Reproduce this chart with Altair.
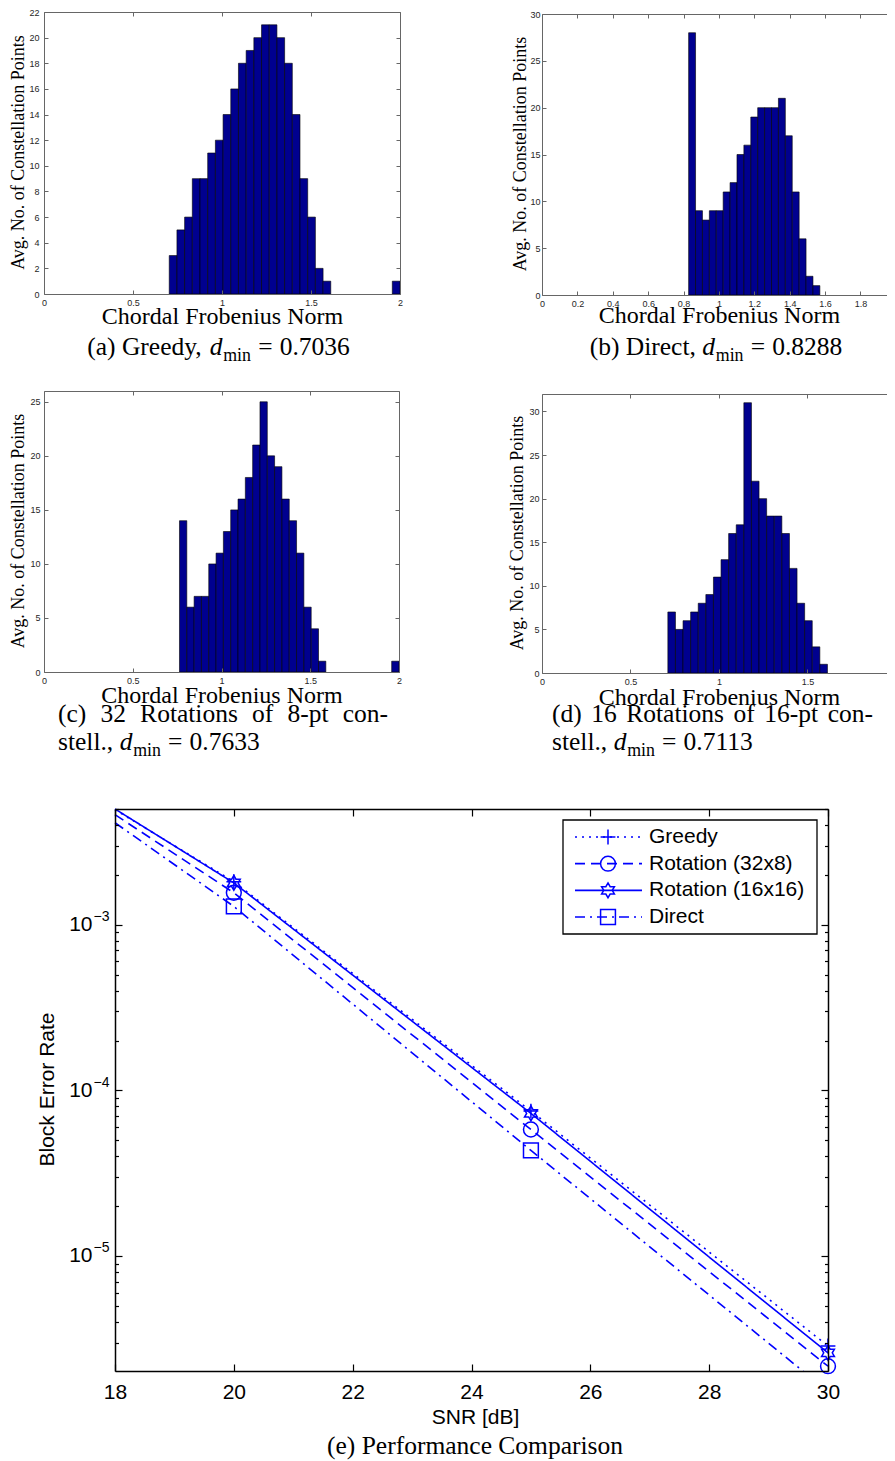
import altair as alt
import pandas as pd

# ================= DATA =================
# Histograms: 30 equal bins from d_min to 2.0 (counts)
hist_max = 2.0
dmin_a = 0.7036
counts_a = [3, 5, 6, 9, 9, 11, 12, 14, 16, 18, 19, 20, 21, 21, 20, 18, 14, 9, 6, 2, 1,
            0, 0, 0, 0, 0, 0, 0, 0, 1]
dmin_b = 0.8288
counts_b = [28, 9, 8, 9, 9, 11, 12, 15, 16, 19, 20, 20, 20, 21, 17, 11, 6, 2, 1,
            0, 0, 0, 0, 0, 0, 0, 0, 0, 0, 1]
dmin_c = 0.7633
counts_c = [14, 6, 7, 7, 10, 11, 13, 15, 16, 18, 21, 25, 20, 19, 16, 14, 11, 6, 4, 1,
            0, 0, 0, 0, 0, 0, 0, 0, 0, 1]
dmin_d = 0.7113
counts_d = [7, 5, 6, 7, 8, 9, 11, 13, 16, 17, 31, 22, 20, 18, 18, 16, 12, 8, 6, 3, 1,
            0, 0, 0, 0, 0, 0, 0, 0, 1]

# Block error rate vs SNR
snr_db = [18, 20, 25, 30]
series_names = ["Greedy", "Rotation (32x8)", "Rotation (16x16)", "Direct"]
bler_greedy = [4.95e-3, 1.82e-3, 7.5e-5, 2.86e-6]
bler_rot32x8 = [4.62e-3, 1.56e-3, 5.8e-5, 2.16e-6]
bler_rot16x16 = [5.0e-3, 1.79e-3, 7.26e-5, 2.6e-6]
bler_direct = [4.13e-3, 1.29e-3, 4.34e-5, 1.52e-6]
marker_snr_min = 20

# Tick labels / axis ranges
hist_xticks = [0, 0.5, 1, 1.5, 2]
hist_xticks_d = [0, 0.5, 1, 1.5]
hist_xticks_b = [0, 0.2, 0.4, 0.6, 0.8, 1, 1.2, 1.4, 1.6, 1.8]
yticks_a = [0, 2, 4, 6, 8, 10, 12, 14, 16, 18, 20, 22]
yticks_b = [0, 5, 10, 15, 20, 25, 30]
yticks_c = [0, 5, 10, 15, 20, 25]
yticks_d = [0, 5, 10, 15, 20, 25, 30]
snr_ticks = [18, 20, 22, 24, 26, 28, 30]
bler_lo, bler_hi = 2.02e-6, 5.0e-3
bler_major = [1e-5, 1e-4, 1e-3]
bler_minor = [k * 10.0 ** e for e in (-6, -5, -4, -3) for k in range(2, 10)
              if bler_lo <= k * 10.0 ** e <= bler_hi]

# ================= STYLE / LAYOUT =================
SERIF = "Liberation Serif"
SANS = "Liberation Sans"
NAVY = "#00008F"
BLUE = "#0000FF"
HFRAME = "#666666"
CAP_FS = 25.5
GW, GH = 879, 1447          # one drawing surface; page pixel = surface pixel + 8
ONE = pd.DataFrame({"k": [0]})

# plot rectangles of the five panels on the surface
PAN = {
    "a": dict(x0=36, x1=392, y0=4, y1=286),
    "b": dict(x0=534, x1=879, y0=6, y1=287),
    "c": dict(x0=36, x1=391, y0=383, y1=664),
    "d": dict(x0=534, x1=879, y0=386, y1=665),
    "e": dict(x0=107, x1=820, y0=801, y1=1363),
}

TIMES_W = {" ": 250, "(": 333, ")": 333, ",": 250, ".": 250, "-": 333, "=": 564,
           "a": 444, "b": 500, "c": 444, "d": 500, "e": 444, "f": 333, "g": 500,
           "h": 500, "i": 278, "k": 500, "l": 278, "m": 778, "n": 500, "o": 500,
           "p": 500, "r": 333, "s": 389, "t": 278, "u": 500, "x": 500, "y": 500,
           "C": 667, "D": 722, "G": 722, "N": 722, "P": 556, "R": 667}
for _c in "0123456789":
    TIMES_W[_c] = 500


def tw(s, fs):
    return sum(TIMES_W.get(c, 500) for c in s) / 1000.0 * fs


def txt(s, x, y, fs, style="normal", align="left", baseline="alphabetic",
        font=SERIF, color="black"):
    return alt.Chart(ONE).mark_text(
        text=s, font=font, fontSize=fs, fontStyle=style, align=align,
        baseline=baseline, color=color
    ).encode(x=alt.value(x), y=alt.value(y))


def dmin_run(prefix, value, fs):
    items, x = [], 0.0
    items.append((prefix, x, 0.0, fs, "normal"))
    x += tw(prefix, fs)
    items.append(("d", x, 0.0, fs, "italic"))
    x += 0.53 * fs
    sfs = 0.7 * fs
    items.append(("min", x, 0.2 * fs, sfs, "normal"))
    x += tw("min", sfs) + 0.28 * fs
    items.append(("=", x, 0.0, fs, "normal"))
    x += tw("=", fs) + 0.28 * fs
    items.append((value, x, 0.0, fs, "normal"))
    x += tw(value, fs)
    return items, x


def place(items, x0, base):
    return [txt(s, x0 + dx, base + dy, f, style=st) for (s, dx, dy, f, st) in items]


def centered_dmin(prefix, value, cx, cy, fs=CAP_FS):
    items, w = dmin_run(prefix, value, fs)
    return place(items, cx - w / 2, cy + 0.33 * fs)


def left_dmin(prefix, value, lx, cy, fs=CAP_FS):
    items, _ = dmin_run(prefix, value, fs)
    return place(items, lx, cy + 0.33 * fs)


def justified(words, lx, rx, cy, fs=CAP_FS):
    ws = [tw(w, fs) for w in words]
    gap = (rx - lx - sum(ws)) / (len(words) - 1)
    out, x = [], lx
    for w, wd in zip(words, ws):
        out.append(txt(w, x, cy + 0.33 * fs, fs))
        x += wd + gap
    return out


def ax_layer(anchor, xs, ys, chan, orient, pos, **kw):
    """An axis whose line sits at surface coordinate `pos`."""
    if orient in ("left", "top"):
        offset = -pos
    elif orient == "right":
        offset = pos - GW
    else:
        offset = pos - GH
    ax = alt.Axis(orient=orient, offset=offset, grid=False, zindex=1, **kw)
    if chan == "x":
        enc = dict(x=alt.X("ax:Q", scale=xs, axis=ax), y=alt.Y("ay:Q", scale=ys, axis=None))
    else:
        enc = dict(x=alt.X("ax:Q", scale=xs, axis=None), y=alt.Y("ay:Q", scale=ys, axis=ax))
    return alt.Chart(anchor).mark_point(opacity=0, size=1).encode(**enc)


def inward(anchor, xs, ys, chan, orient, edge, values, size, color, width):
    pos = edge + size if orient in ("left", "top") else edge - size
    return ax_layer(anchor, xs, ys, chan, orient, pos, values=values, labels=False,
                    ticks=True, tickSize=size, tickColor=color, tickWidth=width,
                    domain=False, title=None)


def frame(anchor, xs, ys, chan, orient, edge, color, width):
    return ax_layer(anchor, xs, ys, chan, orient, edge, labels=False, ticks=False,
                    domain=True, domainColor=color, domainWidth=width, title=None)


# ================= HISTOGRAM PANELS =================
def hist_layers(p, counts, dmin, xmax, ymax, xticks, yticks, ylab_pad, ytitle_dx,
                xtitle_dy, xtitle_val, open_right):
    g = PAN[p]
    n = len(counts)
    step = (hist_max - dmin) / n
    df = pd.DataFrame({"lo": [dmin + i * step for i in range(n)],
                       "hi": [dmin + (i + 1) * step for i in range(n)],
                       "count": counts})
    df = df[df["count"] > 0]
    xs = alt.Scale(domain=[0, xmax], range=[g["x0"], g["x1"]], nice=False, zero=False)
    ys = alt.Scale(domain=[0, ymax], range=[g["y1"], g["y0"]], nice=False, zero=False)
    anchor = pd.DataFrame({"ax": [0.0], "ay": [0.0]})
    bars = alt.Chart(df).mark_rect(fill=NAVY, stroke="black", strokeWidth=0.6,
                                   clip=True).encode(
        x=alt.X("lo:Q", scale=xs, axis=None),
        x2="hi:Q",
        y=alt.Y("count:Q", scale=ys, axis=None),
        y2=alt.datum(0),
    )
    xpx = g["x0"] + (g["x1"] - g["x0"]) * xtitle_val / xmax
    xlab = ax_layer(anchor, xs, ys, "x", "bottom", g["y1"], values=xticks, format="~g",
                    labelFont=SANS, labelFontSize=9, labelColor="#262626",
                    labelPadding=4, labelFlush=False, labelOverlap=False, ticks=False,
                    domain=False, title="Chordal Frobenius Norm", titleFont=SERIF,
                    titleFontSize=24, titleFontWeight="normal", titleColor="black",
                    titleX=xpx, titleY=xtitle_dy, titleAlign="center",
                    titleBaseline="middle")
    ylab = ax_layer(anchor, xs, ys, "y", "left", g["x0"], values=yticks, labelFont=SANS,
                    labelFontSize=9, labelColor="#262626", labelPadding=ylab_pad,
                    labelOverlap=False, ticks=False, domain=False,
                    title="Avg. No. of Constellation Points", titleFont=SERIF,
                    titleFontSize=18, titleFontWeight="normal", titleColor="black",
                    titleX=ytitle_dx, titleY=(g["y0"] + g["y1"]) / 2 - 1,
                    titleAlign="center", titleBaseline="middle", titleAngle=270)
    layers = [bars, xlab, ylab,
              frame(anchor, xs, ys, "x", "bottom", g["y1"], HFRAME, 1),
              frame(anchor, xs, ys, "x", "top", g["y0"], HFRAME, 1),
              frame(anchor, xs, ys, "y", "left", g["x0"], HFRAME, 1),
              inward(anchor, xs, ys, "x", "bottom", g["y1"], xticks, 4, HFRAME, 1),
              inward(anchor, xs, ys, "x", "top", g["y0"], xticks, 4, HFRAME, 1),
              inward(anchor, xs, ys, "y", "left", g["x0"], yticks, 4, HFRAME, 1)]
    if not open_right:
        layers.append(frame(anchor, xs, ys, "y", "right", g["x1"], HFRAME, 1))
        layers.append(inward(anchor, xs, ys, "y", "right", g["x1"], yticks, 4, HFRAME, 1))
    return layers


layers = []
layers += hist_layers("a", counts_a, dmin_a, 2.0, 22, hist_xticks, yticks_a, 5, -26, 22, 1.0, False)
layers += hist_layers("b", counts_b, dmin_b, 1.95, 30, hist_xticks_b, yticks_b, 2, -22, 20, 1.0, True)
layers += hist_layers("c", counts_c, dmin_c, 2.0, 26, hist_xticks, yticks_c, 4, -26, 23, 1.0, False)
layers += hist_layers("d", counts_d, dmin_d, 1.95, 32, hist_xticks_d, yticks_d, 3, -25, 24, 1.0, True)

# captions (surface coordinates)
layers += centered_dmin("(a) Greedy, ", "0.7036", 210.5, 339)
layers += centered_dmin("(b) Direct, ", "0.8288", 708, 339)
layers += justified(["(c)", "32", "Rotations", "of", "8-pt", "con-"], 50, 380, 706)
layers += left_dmin("stell., ", "0.7633", 50, 734)
layers += justified(["(d)", "16", "Rotations", "of", "16-pt", "con-"], 544, 865, 706)
layers += left_dmin("stell., ", "0.7113", 544, 734)

# ================= BLER PANEL =================
rows = []
for name, vals in zip(series_names, [bler_greedy, bler_rot32x8, bler_rot16x16, bler_direct]):
    for s, v in zip(snr_db, vals):
        rows.append({"series": name, "snr": s, "ber": v})
df_e = pd.DataFrame(rows)

ge = PAN["e"]
xs_e = alt.Scale(domain=[18, 30], range=[ge["x0"], ge["x1"]], nice=False, zero=False)
ys_e = alt.Scale(type="log", domain=[bler_lo, bler_hi], range=[ge["y1"], ge["y0"]], nice=False)
dash_scale = alt.Scale(domain=series_names, range=[[2, 5], [10, 6], [1, 0], [10, 5, 2, 5]])
PLUS = "M-1,0L1,0M0,-1L0,1"
HEX = ("M0,-1L0.2887,-0.5L0.866,-0.5L0.5774,0L0.866,0.5L0.2887,0.5L0,1L-0.2887,0.5"
       "L-0.866,0.5L-0.5774,0L-0.866,-0.5L-0.2887,-0.5Z")
shape_scale = alt.Scale(domain=series_names, range=[PLUS, "circle", HEX, "square"])
anchor_e = pd.DataFrame({"ax": [18.0], "ay": [1e-4]})

lines = alt.Chart(df_e).mark_line(clip=True, color=BLUE, strokeWidth=1.6).encode(
    x=alt.X("snr:Q", scale=xs_e, axis=None),
    y=alt.Y("ber:Q", scale=ys_e, axis=None),
    strokeDash=alt.StrokeDash("series:N", scale=dash_scale, legend=None),
    order="snr:Q",
)
# white strip under the frame: the Direct curve leaves the axes just before 30 dB
mask = alt.Chart(ONE).mark_rect(fill="white").encode(
    x=alt.value(ge["x1"] - 32), x2=alt.value(ge["x1"] + 3),
    y=alt.value(ge["y1"] + 1), y2=alt.value(ge["y1"] + 26))
points = alt.Chart(df_e).transform_filter(
    f"datum.snr >= {marker_snr_min} && datum.ber >= {bler_lo}"
).mark_point(filled=False, color=BLUE, strokeWidth=1.5, size=220, opacity=1).encode(
    x=alt.X("snr:Q", scale=xs_e, axis=None),
    y=alt.Y("ber:Q", scale=ys_e, axis=None),
    shape=alt.Shape("series:N", scale=shape_scale, legend=None),
)
xlab_e = ax_layer(anchor_e, xs_e, ys_e, "x", "bottom", ge["y1"], values=snr_ticks,
                  format="d", labelFont=SANS, labelFontSize=21, labelColor="black",
                  labelPadding=10, labelFlush=False, labelOverlap=False, ticks=False,
                  domain=False, title="SNR [dB]", titleFont=SANS, titleFontSize=21,
                  titleFontWeight="normal", titleColor="black", titleX=467, titleY=46,
                  titleAlign="center", titleBaseline="middle")
ylab_e = ax_layer(anchor_e, xs_e, ys_e, "y", "left", ge["x0"], values=bler_major,
                  labelExpr="'10'", labelFont=SANS, labelFontSize=21, labelColor="black",
                  labelPadding=23, labelBaseline="middle", labelOverlap=False,
                  ticks=False, domain=False, title="Block Error Rate", titleFont=SANS,
                  titleFontSize=21, titleFontWeight="normal", titleColor="black",
                  titleX=-68, titleY=1081, titleAlign="center", titleBaseline="middle",
                  titleAngle=270)
expo_e = ax_layer(anchor_e, xs_e, ys_e, "y", "left", ge["x0"], values=bler_major,
                  labelExpr="'\u2212' + format(-round(log(datum.value) / LN10), 'd')",
                  labelFont=SANS, labelFontSize=14, labelColor="black", labelPadding=6,
                  labelOffset=-8, labelOverlap=False, ticks=False, domain=False,
                  title=None)
frames_e = [frame(anchor_e, xs_e, ys_e, "x", "bottom", ge["y1"], "black", 1.5),
            frame(anchor_e, xs_e, ys_e, "x", "top", ge["y0"], "black", 1.5),
            frame(anchor_e, xs_e, ys_e, "y", "left", ge["x0"], "black", 1.5),
            frame(anchor_e, xs_e, ys_e, "y", "right", ge["x1"], "black", 1.5)]
ticks_e = [
    inward(anchor_e, xs_e, ys_e, "x", "bottom", ge["y1"], snr_ticks, 7, "black", 1.2),
    inward(anchor_e, xs_e, ys_e, "x", "top", ge["y0"], snr_ticks, 7, "black", 1.2),
    inward(anchor_e, xs_e, ys_e, "y", "left", ge["x0"], bler_major, 7, "black", 1.2),
    inward(anchor_e, xs_e, ys_e, "y", "left", ge["x0"], bler_minor, 3.5, "black", 1.2),
    inward(anchor_e, xs_e, ys_e, "y", "right", ge["x1"], bler_major, 7, "black", 1.2),
    inward(anchor_e, xs_e, ys_e, "y", "right", ge["x1"], bler_minor, 3.5, "black", 1.2),
]

# legend (inside the axes, MATLAB style)
leg_df = pd.DataFrame({"series": series_names, "row": [0, 1, 2, 3]})
leg_y = alt.Scale(domain=[0, 3], range=[829, 909], nice=False, zero=False)
legend_box = alt.Chart(ONE).mark_rect(fill="white", stroke="black", strokeWidth=1.3).encode(
    x=alt.value(555), x2=alt.value(809), y=alt.value(812), y2=alt.value(926))
legend_rules = alt.Chart(leg_df).mark_rule(color=BLUE, strokeWidth=1.6).encode(
    x=alt.value(567), x2=alt.value(634),
    y=alt.Y("row:Q", scale=leg_y, axis=None),
    strokeDash=alt.StrokeDash("series:N", scale=dash_scale, legend=None))
legend_pts = alt.Chart(leg_df).mark_point(filled=False, color=BLUE, strokeWidth=1.5,
                                          size=220, opacity=1).encode(
    x=alt.value(600),
    y=alt.Y("row:Q", scale=leg_y, axis=None),
    shape=alt.Shape("series:N", scale=shape_scale, legend=None))
legend_txt = alt.Chart(leg_df).mark_text(align="left", baseline="middle", font=SANS,
                                         fontSize=21, color="black").encode(
    x=alt.value(641),
    y=alt.Y("row:Q", scale=leg_y, axis=None),
    text="series:N")

layers += [lines, mask, points, xlab_e, ylab_e, expo_e] + frames_e + ticks_e
layers += [legend_box, legend_rules, legend_pts, legend_txt]
layers.append(txt("(e) Performance Comparison", 467, 1438 + 0.33 * CAP_FS, CAP_FS,
                  align="center"))

chart = alt.layer(*layers).resolve_scale(
    x="independent", y="independent"
).properties(
    width=GW, height=GH, padding=0, autosize=alt.AutoSizeParams(type="pad")
).configure(
    font=SANS, background="white", view=alt.ViewConfig(strokeOpacity=0, strokeWidth=0)
)

chart.save("out.html", embed_options={"renderer": "svg", "actions": False})
